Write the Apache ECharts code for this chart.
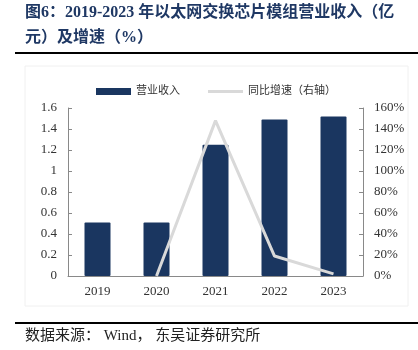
<!DOCTYPE html>
<html><head><meta charset="utf-8">
<script src="https://cdn.jsdelivr.net/npm/echarts@6/dist/echarts.min.js"></script>
<style>html,body{margin:0;padding:0;background:#fff}#c{width:418px;height:350px}</style>
</head><body><div id="c"></div>
<script>
var categories = ['2019', '2020', '2021', '2022', '2023'];
var revenue = [0.51, 0.51, 1.25, 1.49, 1.52];
var growth = [null, 0, 148, 19, 2];
var leftTicks = [0, 1.6, 0.2];
var rightTicks = [0, 160, 20];

var serif = '"Liberation Serif", "Noto Sans CJK SC", serif';
var chart = echarts.init(document.getElementById('c'), null, {renderer: 'canvas'});
chart.setOption({
  animation: false,
  backgroundColor: '#fff',
  graphic: [
    {type: 'text', left: 25, top: 5, style: {text: '图6：2019-2023 年以太网交换芯片模组营业收入（亿', font: 'bold 16px ' + serif, fill: '#1f3864'}},
    {type: 'text', left: 25, top: 30, style: {text: '元）及增速（%）', font: 'bold 16px ' + serif, fill: '#1f3864'}},
    {type: 'rect', shape: {x: 15, y: 52, width: 403, height: 2}, style: {fill: '#000'}},
    {type: 'rect', shape: {x: 25, y: 66, width: 383, height: 240}, style: {fill: 'none', stroke: '#f0f0f0', lineWidth: 1}, z: -1},
    {type: 'rect', shape: {x: 15, y: 322, width: 403, height: 2}, style: {fill: '#000'}},
    {type: 'text', left: 25, top: 329, style: {text: '数据来源： Wind， 东吴证券研究所', font: '15px ' + serif, fill: '#222'}}
  ],
  legend: {
    top: 81, left: 91,
    itemWidth: 35, itemHeight: 7, itemGap: 28,
    textStyle: {fontFamily: serif, fontSize: 11, color: '#333'},
    data: [
      {name: '营业收入', icon: 'rect'},
      {name: '同比增速（右轴）', icon: 'path://M0,0 L35,0 L35,3 L0,3 Z'}
    ]
  },
  grid: {left: 68, right: 55, top: 108, bottom: 74, containLabel: false},
  xAxis: {
    type: 'category', data: categories,
    axisLine: {lineStyle: {color: '#898989'}},
    axisTick: {inside: true, length: 4, lineStyle: {color: '#898989'}},
    axisLabel: {fontFamily: serif, fontSize: 13, color: '#333', margin: 9}
  },
  yAxis: [
    {type: 'value', min: leftTicks[0], max: leftTicks[1], interval: leftTicks[2],
     splitLine: {show: false},
     axisLine: {show: true, lineStyle: {color: '#898989'}},
     axisTick: {show: true, inside: true, length: 4, lineStyle: {color: '#898989'}},
     axisLabel: {fontFamily: serif, fontSize: 13, color: '#333', margin: 11}},
    {type: 'value', min: rightTicks[0], max: rightTicks[1], interval: rightTicks[2],
     splitLine: {show: false},
     axisLine: {show: true, lineStyle: {color: '#898989'}},
     axisTick: {show: true, inside: true, length: 4, lineStyle: {color: '#898989'}},
     axisLabel: {fontFamily: serif, fontSize: 13, color: '#333', margin: 11, formatter: '{value}%'}}
  ],
  series: [
    {name: '营业收入', type: 'bar', data: revenue, barWidth: 26, yAxisIndex: 0,
     itemStyle: {color: '#1a3660', borderRadius: 1}},
    {name: '同比增速（右轴）', type: 'line', data: growth, yAxisIndex: 1,
     symbol: 'none', connectNulls: false,
     lineStyle: {color: '#d9d9d9', width: 3}, itemStyle: {color: '#d9d9d9'}}
  ]
});
</script></body></html>
